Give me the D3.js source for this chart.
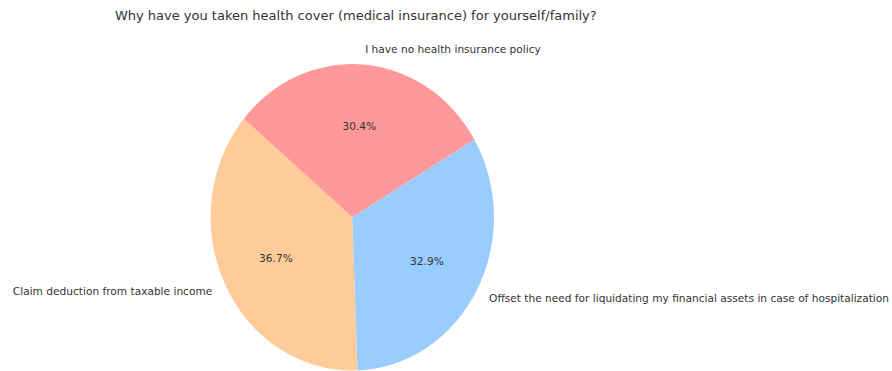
<!DOCTYPE html>
<html>
<head>
<meta charset="utf-8">
<script src="https://cdn.jsdelivr.net/npm/d3@7"></script>
<style>
  html, body { margin: 0; padding: 0; background: #fff; }
  svg { display: block; font-family: "DejaVu Sans", sans-serif; }
</style>
</head>
<body>
<svg id="chart" width="892" height="371"></svg>
<script>
// Survey answers and their shares (percent)
const categories = [
  "Claim deduction from taxable income",
  "Offset the need for liquidating my financial assets in case of hospitalization",
  "I have no health insurance policy"
];
const shares = [36.7, 32.9, 30.4];
const sliceColors = ["#ffcc99", "#99ccff", "#ff9999"];
const titleText = "Why have you taken health cover (medical insurance) for yourself/family?";

const svg = d3.select("#chart");

// Pie frame (slightly taller than wide)
const cx = 352.3, cy = 217.3, rx = 141.7, ry = 153.3;
const x = d3.scaleLinear().domain([-1, 1]).range([cx - rx, cx + rx]);
const y = d3.scaleLinear().domain([-1, 1]).range([cy + ry, cy - ry]);

// Wedges run counter-clockwise, first one starting at 140° from the +x axis
const startDeg = 140;
const a0 = (90 - startDeg) * Math.PI / 180;
const pie = d3.pie().sort(null).value(d => d.v)
  .startAngle(a0).endAngle(a0 - 2 * Math.PI);
const data = categories.map((c, i) => ({ c, v: shares[i], col: sliceColors[i] }));
const arcs = pie(data);

const arc = d3.arc().innerRadius(0).outerRadius(1);

const gPie = svg.append("g")
  .attr("transform", `translate(${x(0)},${y(0)}) scale(${x(1) - x(0)},${y(-1) - y(0)})`);
gPie.selectAll("path").data(arcs).join("path")
  .attr("d", arc)
  .attr("fill", d => d.data.col);

// Unit-circle position of a wedge's mid angle at distance k
const midPt = (d, k) => {
  const m = (d.startAngle + d.endAngle) / 2;
  return [k * Math.sin(m), k * Math.cos(m)];
};

// Category labels outside the pie
svg.append("g").selectAll("text").data(arcs).join("text")
  .attr("x", d => x(midPt(d, 1.1)[0]))
  .attr("y", d => y(midPt(d, 1.1)[1]))
  .attr("text-anchor", d => midPt(d, 1.1)[0] > 0 ? "start" : "end")
  .attr("dominant-baseline", "central")
  .attr("font-size", 10.6)
  .attr("fill", "#333")
  .text(d => d.data.c);

// Percentage labels inside the wedges
svg.append("g").selectAll("text").data(arcs).join("text")
  .attr("x", d => x(midPt(d, 0.6)[0]))
  .attr("y", d => y(midPt(d, 0.6)[1]))
  .attr("text-anchor", "middle")
  .attr("dominant-baseline", "central")
  .attr("font-size", 10.6)
  .attr("fill", "#333")
  .text(d => d3.format(".1f")(d.data.v) + "%");

// Title
svg.append("text")
  .attr("x", 355.8)
  .attr("y", 19.5)
  .attr("text-anchor", "middle")
  .attr("font-size", 13)
  .attr("fill", "#333")
  .text(titleText);
</script>
</body>
</html>
